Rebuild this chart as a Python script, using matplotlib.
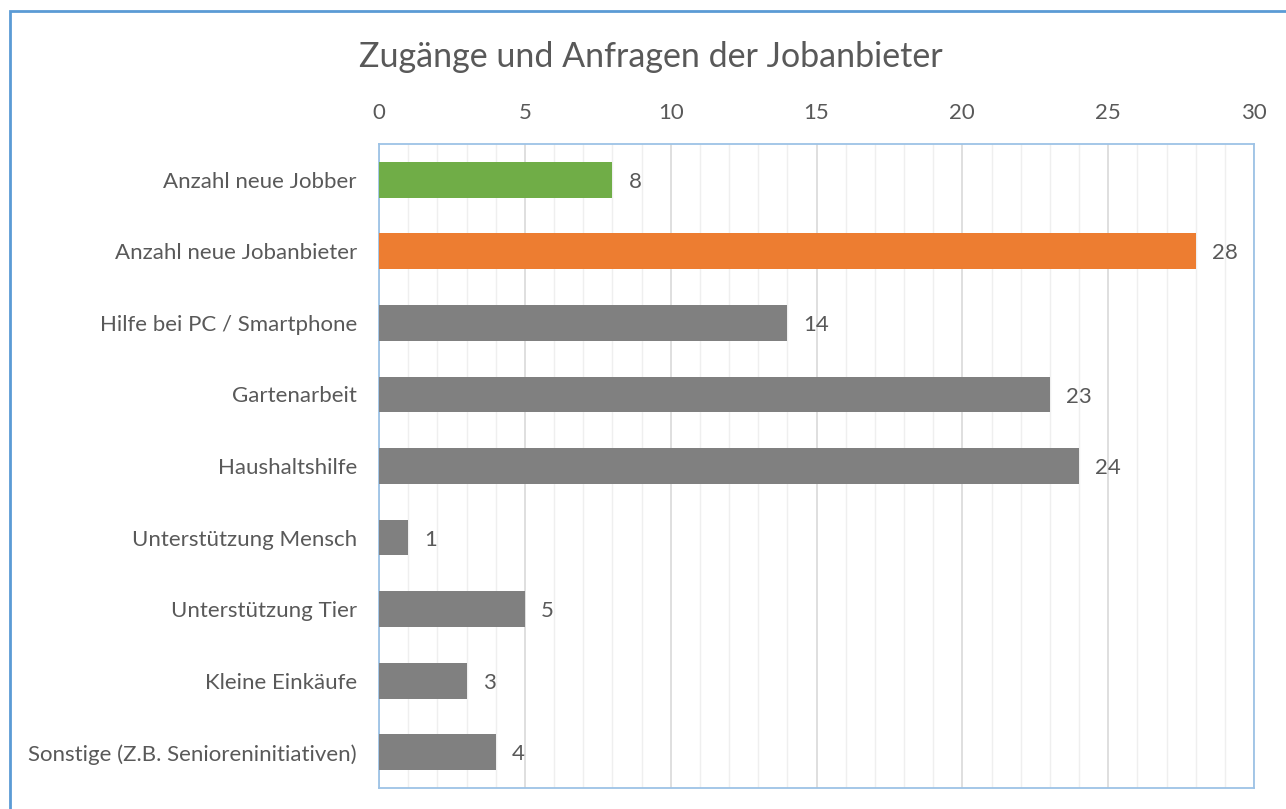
import matplotlib
matplotlib.use("Agg")
import matplotlib.pyplot as plt
from matplotlib.patches import Rectangle
from matplotlib.ticker import MultipleLocator

# data, top to bottom as in the chart
categories = [
    "Anzahl neue Jobber",
    "Anzahl neue Jobanbieter",
    "Hilfe bei PC / Smartphone",
    "Gartenarbeit",
    "Haushaltshilfe",
    "Unterstützung Mensch",
    "Unterstützung Tier",
    "Kleine Einkäufe",
    "Sonstige (Z.B. Senioreninitiativen)",
]
values = [8, 28, 14, 23, 24, 1, 5, 3, 4]
bar_colors = ["#70AD47", "#ED7D31"] + ["#808080"] * 7

text_color = "#595959"
plt.rcParams["font.family"] = ["Lato", "DejaVu Sans"]

fig = plt.figure(figsize=(12.86, 8.09), dpi=100)
ax = fig.add_axes([379 / 1286, 1 - 788 / 809, (1254 - 379) / 1286, (788 - 144) / 809])

y_pos = list(range(len(categories)))
ax.barh(y_pos, values, height=0.5, color=bar_colors, edgecolor="none", zorder=3)

# value labels next to the bars
for y, v in zip(y_pos, values):
    ax.text(v + 0.55, y + 0.03, str(v), va="center", ha="left", fontsize=16, color=text_color)

ax.set_xlim(0, 30)
ax.set_ylim(len(categories) - 0.5, -0.5)
ax.set_yticks(y_pos)
ax.set_yticklabels(categories, fontsize=16, color=text_color)

ax.xaxis.set_major_locator(MultipleLocator(5))
ax.xaxis.set_minor_locator(MultipleLocator(1))
ax.xaxis.tick_top()
ax.tick_params(axis="x", which="both", length=0, labelsize=16, labelcolor=text_color, pad=15)
ax.tick_params(axis="y", length=0, pad=16)

ax.grid(axis="x", which="major", color="#D9D9D9", linewidth=1.2, zorder=0)
ax.grid(axis="x", which="minor", color="#EFEFEF", linewidth=1.0, zorder=0)

for s in ax.spines.values():
    s.set_color("#9DC3E6")
    s.set_linewidth(1.3)

fig.text(651 / 1286, 1 - 57 / 809, "Zugänge und Anfragen der Jobanbieter",
         ha="center", va="center", fontsize=24.5, color=text_color)

# outer chart frame, only top and left edges visible in the screenshot
fig.add_artist(Rectangle((10 / 1286, -0.1), 1.2, 1.1 - 11 / 809,
                         transform=fig.transFigure, fill=False,
                         edgecolor="#5B9BD5", linewidth=2))

fig.savefig("out.png", dpi=100)
